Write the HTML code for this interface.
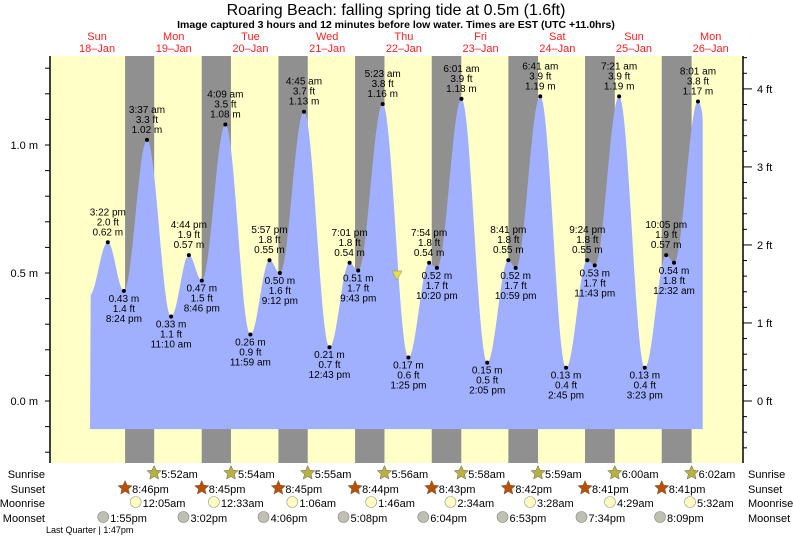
<!DOCTYPE html>
<html><head><meta charset="utf-8"><style>
body{margin:0;background:#fff;}
svg{display:block;font-family:"Liberation Sans",sans-serif;}
</style></head><body>
<svg id="s" width="793" height="538" viewBox="0 0 793 538" xmlns="http://www.w3.org/2000/svg"></svg>
<script>
var s=document.getElementById('s');
var h=[];
function X(t){return 58.7+3.196*t;}
function Y(m){return 401-256*m;}
var ex=[[9.5,0.41],[15.37,0.62,'3:22 pm'],[20.4,0.43,'8:24 pm'],[27.62,1.02,'3:37 am'],[35.17,0.33,'11:10 am'],[40.73,0.57,'4:44 pm'],[44.77,0.47,'8:46 pm'],[52.15,1.08,'4:09 am'],[59.98,0.26,'11:59 am'],[65.95,0.55,'5:57 pm'],[69.2,0.50,'9:12 pm'],[76.75,1.13,'4:45 am'],[84.72,0.21,'12:43 pm'],[91.02,0.54,'7:01 pm'],[93.72,0.51,'9:43 pm'],[101.38,1.16,'5:23 am'],[109.42,0.17,'1:25 pm'],[115.9,0.54,'7:54 pm'],[118.33,0.52,'10:20 pm'],[126.02,1.18,'6:01 am'],[134.08,0.15,'2:05 pm'],[140.68,0.55,'8:41 pm'],[142.98,0.52,'10:59 pm'],[150.68,1.19,'6:41 am'],[158.75,0.13,'2:45 pm'],[165.4,0.55,'9:24 pm'],[167.72,0.53,'11:43 pm'],[175.35,1.19,'7:21 am'],[183.38,0.13,'3:23 pm'],[190.08,0.57,'10:05 pm'],[192.53,0.54,'12:32 am'],[200.02,1.17,'8:01 am'],[208,0.5]];
h.push('<rect x="50" y="56" width="693" height="407" fill="#ffffc8"/>');
var ss=[20.77,44.75,68.75,92.73,116.72,140.7,164.68,188.68],sr=[29.87,53.9,77.92,101.93,125.97,149.98,174,198.03];
for(var i=0;i<8;i++)h.push('<rect x="'+X(ss[i])+'" y="56" width="'+(X(sr[i])-X(ss[i]))+'" height="407" fill="#909090"/>');
var p='M'+X(9.8)+','+Y(-0.11);
for(var i=0;i<ex.length-1;i++){var a=ex[i],b=ex[i+1];for(var t=a[0];t<b[0];t+=0.25){if(t<9.8||t>201.5)continue;var f=(t-a[0])/(b[0]-a[0]);var v=a[1]+(b[1]-a[1])*(1-Math.cos(Math.PI*f))/2;p+='L'+X(t).toFixed(1)+','+Y(v).toFixed(1);}}
p+='L'+X(201.5)+','+Y(1.1)+'L'+X(201.5)+','+Y(-0.11)+'Z';
h.push('<path d="'+p+'" fill="#a0b0ff"/>');
for(var i=1;i<ex.length-1;i++){var e=ex[i],x=X(e[0]),y=Y(e[1]);var hi=e[1]>ex[i-1][1]&&e[1]>ex[i+1][1];var ft=(e[1]/0.3048).toFixed(1)+' ft',m=e[1].toFixed(2)+' m';
h.push('<circle cx="'+x+'" cy="'+y+'" r="2" fill="#000"/>');
var L=hi?[e[2],ft,m]:[m,ft,e[2]];var y0=hi?y-27:y+11;
for(var k=0;k<3;k++)h.push('<text x="'+x+'" y="'+(y0+k*10)+'" font-size="10" text-anchor="middle" fill="#000">'+L[k]+'</text>');}
h.push('<line x1="50" y1="56" x2="50" y2="463" stroke="#000" stroke-width="1.5"/><line x1="743" y1="56" x2="743" y2="463" stroke="#000" stroke-width="1.5"/>');
for(var m=-0.2;m<=1.3;m+=0.1){var y=Y(m);if(y<56||y>463)continue;h.push('<line x1="45" y1="'+y+'" x2="50" y2="'+y+'" stroke="#000"/>');}
[[0,'0.0 m'],[0.5,'0.5 m'],[1,'1.0 m']].forEach(function(a){h.push('<text x="38" y="'+(Y(a[0])+4)+'" font-size="11" text-anchor="end">'+a[1]+'</text>');});
for(var f=-1;f<=4.5;f+=0.2){var y=Y(f*0.3048);if(y<56||y>463)continue;var mj=Math.abs(f-Math.round(f))<0.01;h.push('<line x1="743" y1="'+y+'" x2="'+(mj?752:747)+'" y2="'+y+'" stroke="#000"/>');if(mj)h.push('<text x="757" y="'+(y+4)+'" font-size="11">'+Math.round(f)+' ft</text>');}
h.push('<text x="396" y="15" font-size="16" text-anchor="middle">Roaring Beach: falling  spring tide at 0.5m (1.6ft)</text>');
h.push('<text x="396" y="28" font-size="10.5" font-weight="bold" text-anchor="middle">Image captured 3 hours and 12 minutes before low water. Times are EST (UTC +11.0hrs)</text>');
var days=['Sun','Mon','Tue','Wed','Thu','Fri','Sat','Sun','Mon'];
for(var d=0;d<9;d++){var x=X(12+24*d);h.push('<text x="'+x+'" y="40" font-size="11" fill="#ff2020" text-anchor="middle">'+days[d]+'</text><text x="'+x+'" y="52" font-size="11" fill="#ff2020" text-anchor="middle">'+(18+d)+'–Jan</text>');}
h.push('<path d="M392,271 L402,271 L397,280Z" fill="#e8e040" stroke="#888" stroke-width="0.5"/>');
var rows=[['Sunrise',474],['Sunset',489],['Moonrise',503],['Moonset',518]];
rows.forEach(function(r){h.push('<text x="45" y="'+(r[1]+4)+'" font-size="11" text-anchor="end">'+r[0]+'</text><text x="748" y="'+(r[1]+4)+'" font-size="11">'+r[0]+'</text>');});
function star(x,y,c){var pts=[];for(var k=0;k<10;k++){var r=k%2?3.5:7.5,a=-Math.PI/2+k*Math.PI/5;pts.push((x+r*Math.cos(a)).toFixed(1)+','+(y+r*Math.sin(a)).toFixed(1));}return '<polygon points="'+pts.join(' ')+'" fill="'+c+'" stroke="#666" stroke-width="0.5"/>';}
var srT=['5:52am','5:54am','5:55am','5:56am','5:58am','5:59am','6:00am','6:02am'];
var ssT=['8:46pm','8:45pm','8:45pm','8:44pm','8:43pm','8:42pm','8:41pm','8:41pm'];
var mr=[24.08,48.55,73.1,97.77,122.57,147.47,172.48,197.53],mrT=['12:05am','12:33am','1:06am','1:46am','2:34am','3:28am','4:29am','5:32am'];
var ms=[13.92,39.03,64.1,89.13,114.07,138.88,163.57,188.15],msT=['1:55pm','3:02pm','4:06pm','5:08pm','6:04pm','6:53pm','7:34pm','8:09pm'];
for(var i=0;i<8;i++){
h.push(star(X(sr[i]),473,'#b8b040')+'<text x="'+(X(sr[i])+7)+'" y="478" font-size="11">'+srT[i]+'</text>');
h.push(star(X(ss[i]),488,'#b85000')+'<text x="'+(X(ss[i])+7)+'" y="493" font-size="11">'+ssT[i]+'</text>');
h.push('<circle cx="'+X(mr[i])+'" cy="502" r="5.5" fill="#ffffc0" stroke="#999" stroke-width="0.6"/><text x="'+(X(mr[i])+7)+'" y="507" font-size="11">'+mrT[i]+'</text>');
h.push('<circle cx="'+X(ms[i])+'" cy="517" r="5.5" fill="#c0c0b0" stroke="#888" stroke-width="0.6"/><text x="'+(X(ms[i])+7)+'" y="522" font-size="11">'+msT[i]+'</text>');}
h.push('<text x="46" y="533" font-size="9">Last Quarter | 1:47pm</text>');
s.innerHTML=h.join('');
</script>
</body></html>
